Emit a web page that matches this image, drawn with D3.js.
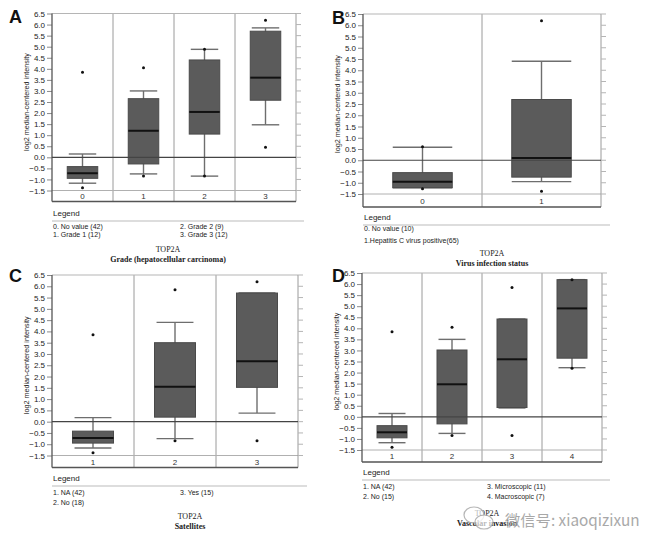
<!DOCTYPE html>
<html><head><meta charset="utf-8">
<script src="https://cdn.jsdelivr.net/npm/d3@7"></script>
<style>body{margin:0;background:#fff}svg{display:block}</style>
</head><body>
<svg id="chart" width="659" height="548"></svg>
<script>
// ---------- data ----------
const yTickValues = [-1.5,-1.0,-0.5,0.0,0.5,1.0,1.5,2.0,2.5,3.0,3.5,4.0,4.5,5.0,5.5,6.0,6.5];
const yAxisTitle = "log2 median-centered intensity";
const geneName = "TOP2A";

const panelA_categories = ["0","1","2","3"];
const panelA_whiskerLow  = [-1.17,-0.75,-0.85,1.47];
const panelA_q1          = [-0.95,-0.30,1.05,2.58];
const panelA_median      = [-0.72,1.20,2.05,3.60];
const panelA_q3          = [-0.42,2.65,4.40,5.70];
const panelA_whiskerHigh = [0.15,3.00,4.88,5.85];
const panelA_outliers    = [[3.85,-1.38],[4.05,-0.85],[4.88,-0.85],[6.20,0.45]];
const panelA_legend      = ["0. No value (42)","1. Grade 1 (12)","2. Grade 2 (9)","3. Grade 3 (12)"];
const panelA_title       = "Grade  (hepatocellular carcinoma)";

const panelB_categories = ["0","1"];
const panelB_whiskerLow  = [-1.22,-0.95];
const panelB_q1          = [-1.22,-0.75];
const panelB_median      = [-0.95,0.10];
const panelB_q3          = [-0.55,2.70];
const panelB_whiskerHigh = [0.58,4.40];
const panelB_outliers    = [[0.60,-1.27],[6.20,-1.38]];
const panelB_legend      = ["0. No value (10)","1.Hepatitis C virus positive(65)"];
const panelB_title       = "Virus infection status";

const panelC_categories = ["1","2","3"];
const panelC_whiskerLow  = [-1.17,-0.75,0.38];
const panelC_q1          = [-0.95,0.20,1.52];
const panelC_median      = [-0.72,1.55,2.68];
const panelC_q3          = [-0.42,3.50,5.70];
const panelC_whiskerHigh = [0.18,4.40,5.70];
const panelC_outliers    = [[3.85,-1.38],[5.85,-0.85],[6.20,-0.85]];
const panelC_legend      = ["1. NA (42)","2. No (18)","3. Yes (15)"];
const panelC_title       = "Satellites";

const panelD_categories = ["1","2","3","4"];
const panelD_whiskerLow  = [-1.17,-0.75,0.40,2.22];
const panelD_q1          = [-0.95,-0.32,0.42,2.65];
const panelD_median      = [-0.70,1.47,2.60,4.90];
const panelD_q3          = [-0.40,3.02,4.42,6.20];
const panelD_whiskerHigh = [0.15,3.50,4.42,6.20];
const panelD_outliers    = [[3.85,-1.38],[4.05,-0.85],[5.85,-0.85],[6.20,2.20]];
const panelD_legend      = ["1. NA (42)","2. No (15)","3. Microscopic (11)","4. Macroscopic (7)"];
const panelD_title       = "Vascular invasion";

const watermarkText = "微信号: xiaoqizixun";

// ---------- drawing ----------
const svg = d3.select("#chart");

function drawPanel(p) {
  const g = svg.append("g");
  const x = d3.scaleBand().domain(p.categories).range([p.left, p.right]).padding(0);
  const y = d3.scaleLinear().domain([-1.5, 6.5]).range([p.yLow, p.yHigh]);
  const bottom = p.yLow + p.rowH;
  const bw = x.bandwidth();

  g.append("text").attr("x", p.letterX).attr("y", p.letterY)
    .attr("font-family", "Liberation Sans, Arial, sans-serif").attr("font-weight", "bold")
    .attr("font-size", 18).attr("fill", "#111").text(p.letter);

  p.categories.slice(1).forEach(c => {
    g.append("line").attr("x1", x(c)).attr("x2", x(c)).attr("y1", p.yHigh).attr("y2", bottom)
      .attr("stroke", "#9a9a9a").attr("stroke-width", 1);
  });
  g.append("line").attr("x1", p.left).attr("x2", p.right).attr("y1", y(-1.5)).attr("y2", y(-1.5))
    .attr("stroke", "#b0b0b0").attr("stroke-width", 1);
  g.append("line").attr("x1", p.left).attr("x2", p.right).attr("y1", p.yHigh).attr("y2", p.yHigh)
    .attr("stroke", "#b5b5b5").attr("stroke-width", 1);
  g.append("line").attr("x1", p.right).attr("x2", p.right).attr("y1", p.yHigh).attr("y2", bottom)
    .attr("stroke", "#9a9a9a").attr("stroke-width", 1);
  g.selectAll(".rt").data(yTickValues).enter().append("line")
    .attr("x1", p.right).attr("x2", p.right + 5).attr("y1", d => y(d)).attr("y2", d => y(d))
    .attr("stroke", "#b5b5b5").attr("stroke-width", 1);

  const ax = d3.axisLeft(y).tickValues(yTickValues).tickFormat(d3.format(".1f")).tickSize(5).tickPadding(2);
  const axg = g.append("g").attr("transform", `translate(${p.left},0)`).call(ax);
  axg.select(".domain").remove();
  axg.selectAll(".tick line").attr("stroke", "#8a8a8a");
  axg.selectAll(".tick text").attr("font-family", "Liberation Sans Narrow, Liberation Sans, Arial, sans-serif")
    .attr("font-size", 8).attr("fill", "#222");
  g.append("line").attr("x1", p.left).attr("x2", p.left).attr("y1", p.yHigh).attr("y2", bottom)
    .attr("stroke", "#555").attr("stroke-width", 1.3);
  g.append("line").attr("x1", p.left).attr("x2", p.right).attr("y1", bottom).attr("y2", bottom)
    .attr("stroke", "#555").attr("stroke-width", 1.3);

  p.categories.forEach(c => {
    g.append("text").attr("x", x(c) + bw / 2).attr("y", (y(-1.5) + bottom) / 2 + 3)
      .attr("text-anchor", "middle").attr("font-family", "Liberation Sans, Arial, sans-serif")
      .attr("font-size", 8).attr("fill", "#333").text(c);
  });

  g.append("text").attr("transform", `translate(${p.left - 23},${(p.yHigh + p.yLow) / 2}) rotate(-90)`)
    .attr("text-anchor", "middle").attr("font-family", "Liberation Sans, Arial, sans-serif")
    .attr("font-size", 7.2).attr("fill", "#222").text(yAxisTitle);

  p.categories.forEach((c, i) => {
    const cx = x(c) + bw / 2;
    const boxW = bw * p.boxFrac, capW = bw * p.capFrac;
    g.append("line").attr("x1", cx).attr("x2", cx).attr("y1", y(p.whiskerHigh[i])).attr("y2", y(p.whiskerLow[i]))
      .attr("stroke", "#6e6e6e").attr("stroke-width", 1.4);
    [p.whiskerHigh[i], p.whiskerLow[i]].forEach(v => {
      g.append("line").attr("x1", cx - capW / 2).attr("x2", cx + capW / 2).attr("y1", y(v)).attr("y2", y(v))
        .attr("stroke", "#6e6e6e").attr("stroke-width", 1.4);
    });
    g.append("rect").attr("x", cx - boxW / 2).attr("width", boxW)
      .attr("y", y(p.q3[i])).attr("height", y(p.q1[i]) - y(p.q3[i]))
      .attr("fill", "#5b5b5b").attr("stroke", "#4a4a4a").attr("stroke-width", 1);
    g.append("line").attr("x1", cx - boxW / 2).attr("x2", cx + boxW / 2)
      .attr("y1", y(p.median[i])).attr("y2", y(p.median[i]))
      .attr("stroke", "#111").attr("stroke-width", 2);
    p.outliers[i].forEach(v => {
      g.append("circle").attr("cx", cx).attr("cy", y(v)).attr("r", 1.5).attr("fill", "#111");
    });
  });

  g.append("line").attr("x1", p.left).attr("x2", p.right).attr("y1", y(0)).attr("y2", y(0))
    .attr("stroke", "#444").attr("stroke-width", 1.2);

  g.append("text").attr("x", p.left + 1).attr("y", p.legendY)
    .attr("font-family", "Liberation Sans, Arial, sans-serif").attr("font-size", 8)
    .attr("fill", "#222").text("Legend");
  g.append("line").attr("x1", p.left).attr("x2", p.legendLineRight).attr("y1", p.legendY + 5).attr("y2", p.legendY + 5)
    .attr("stroke", "#bbb").attr("stroke-width", 1);
  p.legend.forEach((t, i) => {
    const col = Math.floor(i / p.legendRows), row = i % p.legendRows;
    g.append("text").attr("x", col === 0 ? p.left + 1 : p.legendCol2X).attr("y", p.legendEntryY[row])
      .attr("font-family", "Liberation Sans Narrow, Liberation Sans, Arial, sans-serif").attr("font-size", 7)
      .attr("fill", "#222").text(t);
  });

  g.append("text").attr("x", p.titleX).attr("y", p.titleY).attr("text-anchor", "middle")
    .attr("font-family", "Liberation Serif, Times New Roman, serif").attr("font-size", 8)
    .attr("fill", "#222").text(geneName);
  g.append("text").attr("x", p.titleX).attr("y", p.titleY + 10).attr("text-anchor", "middle")
    .attr("font-family", "Liberation Serif, Times New Roman, serif").attr("font-weight", "bold")
    .attr("font-size", 8).attr("fill", "#222").text(p.title);
}

drawPanel({letter:"A", letterX:9, letterY:23,
  categories:panelA_categories, whiskerLow:panelA_whiskerLow, q1:panelA_q1, median:panelA_median,
  q3:panelA_q3, whiskerHigh:panelA_whiskerHigh, outliers:panelA_outliers, legend:panelA_legend, title:panelA_title,
  left:52, right:296, yHigh:13.5, yLow:190.5, rowH:11, boxFrac:0.5, capFrac:0.45,
  legendY:216, legendLineRight:304, legendEntryY:[229,237], legendRows:2, legendCol2X:180,
  titleX:168, titleY:252});

drawPanel({letter:"B", letterX:332, letterY:24,
  categories:panelB_categories, whiskerLow:panelB_whiskerLow, q1:panelB_q1, median:panelB_median,
  q3:panelB_q3, whiskerHigh:panelB_whiskerHigh, outliers:panelB_outliers, legend:panelB_legend, title:panelB_title,
  left:363, right:601, yHigh:14, yLow:194, rowH:13, boxFrac:0.5, capFrac:0.5,
  legendY:220, legendLineRight:610, legendEntryY:[231,243], legendRows:2, legendCol2X:480,
  titleX:492, titleY:256});

drawPanel({letter:"C", letterX:9, letterY:282,
  categories:panelC_categories, whiskerLow:panelC_whiskerLow, q1:panelC_q1, median:panelC_median,
  q3:panelC_q3, whiskerHigh:panelC_whiskerHigh, outliers:panelC_outliers, legend:panelC_legend, title:panelC_title,
  left:52, right:298, yHigh:275, yLow:455.5, rowH:12, boxFrac:0.5, capFrac:0.45,
  legendY:481, legendLineRight:307, legendEntryY:[495,505], legendRows:2, legendCol2X:180,
  titleX:190, titleY:519});

drawPanel({letter:"D", letterX:332, letterY:282,
  categories:panelD_categories, whiskerLow:panelD_whiskerLow, q1:panelD_q1, median:panelD_median,
  q3:panelD_q3, whiskerHigh:panelD_whiskerHigh, outliers:panelD_outliers, legend:panelD_legend, title:panelD_title,
  left:362, right:602, yHigh:273, yLow:450, rowH:12, boxFrac:0.5, capFrac:0.45,
  legendY:475, legendLineRight:610, legendEntryY:[489,499], legendRows:2, legendCol2X:487,
  titleX:487, titleY:516});

// watermark
const wm = svg.append("g").attr("opacity", 0.85);
wm.append("ellipse").attr("cx", 474).attr("cy", 515).attr("rx", 10).attr("ry", 8)
  .attr("fill", "rgba(255,255,255,0.8)").attr("stroke", "#aaa").attr("stroke-width", 1.2);
wm.append("ellipse").attr("cx", 484).attr("cy", 522).attr("rx", 9).attr("ry", 7)
  .attr("fill", "rgba(255,255,255,0.8)").attr("stroke", "#aaa").attr("stroke-width", 1.2);
wm.append("text").attr("x", 505).attr("y", 526)
  .attr("font-family", "Noto Sans CJK SC, sans-serif").attr("font-size", 15.3)
  .attr("fill", "#9a9a9a").attr("stroke", "#fff").attr("stroke-width", 0.4).attr("paint-order", "stroke")
  .text(watermarkText);
</script>
</body></html>
